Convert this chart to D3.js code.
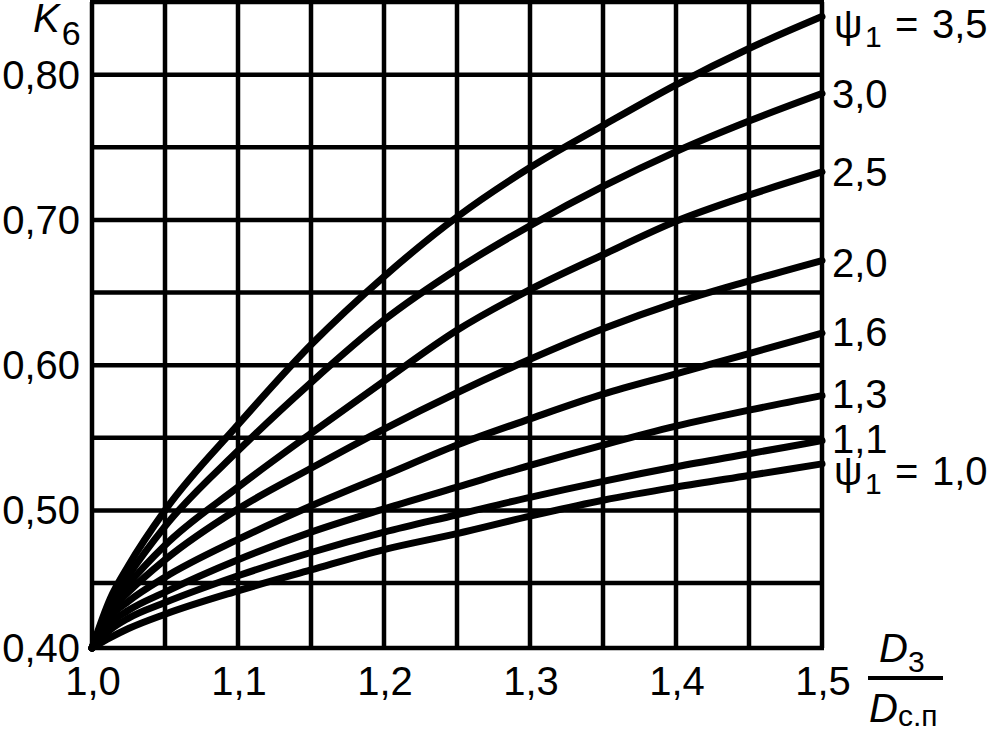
<!DOCTYPE html>
<html><head><meta charset="utf-8">
<script src="https://cdn.jsdelivr.net/npm/d3@7"></script>
<style>
body{margin:0;background:#fff}
svg{display:block}
text{font-family:"Liberation Sans",Arial,Helvetica,sans-serif;fill:#000}
</style>
</head><body>
<svg id="chart" width="995" height="731"></svg>
<script>
// ---- data ----
const xValues = [1.0, 1.0125, 1.025, 1.05, 1.1, 1.15, 1.2, 1.25, 1.3, 1.35, 1.4, 1.45, 1.5];
const psiValues = ["3,5", "3,0", "2,5", "2,0", "1,6", "1,3", "1,1", "1,0"];
const k_psi35 = [0.40, 0.438, 0.462, 0.500, 0.559, 0.614, 0.661, 0.702, 0.736, 0.765, 0.793, 0.818, 0.840];
const k_psi30 = [0.40, 0.433, 0.455, 0.489, 0.541, 0.588, 0.631, 0.666, 0.696, 0.723, 0.747, 0.768, 0.787];
const k_psi25 = [0.40, 0.431, 0.449, 0.476, 0.516, 0.553, 0.589, 0.624, 0.652, 0.676, 0.699, 0.717, 0.733];
const k_psi20 = [0.40, 0.428, 0.443, 0.466, 0.501, 0.529, 0.556, 0.581, 0.604, 0.625, 0.643, 0.658, 0.672];
const k_psi16 = [0.40, 0.424, 0.436, 0.454, 0.480, 0.503, 0.524, 0.545, 0.563, 0.580, 0.594, 0.608, 0.622];
const k_psi13 = [0.40, 0.419, 0.429, 0.443, 0.466, 0.485, 0.501, 0.516, 0.531, 0.545, 0.558, 0.569, 0.579];
const k_psi11 = [0.40, 0.414, 0.423, 0.435, 0.455, 0.471, 0.485, 0.497, 0.509, 0.520, 0.530, 0.539, 0.548];
const k_psi10 = [0.40, 0.408, 0.415, 0.426, 0.444, 0.459, 0.473, 0.484, 0.496, 0.507, 0.516, 0.524, 0.532];
const seriesValues = [k_psi35, k_psi30, k_psi25, k_psi20, k_psi16, k_psi13, k_psi11, k_psi10];

const xTickValues = [1.0, 1.1, 1.2, 1.3, 1.4, 1.5];
const xTickLabels = ["1,0", "1,1", "1,2", "1,3", "1,4", "1,5"];
const yTickValues = [0.40, 0.50, 0.60, 0.70, 0.80];
const yTickLabels = ["0,40", "0,50", "0,60", "0,70", "0,80"];
const xGridValues = [1.0, 1.05, 1.1, 1.15, 1.2, 1.25, 1.3, 1.35, 1.4, 1.45, 1.5];
const yGridValues = [0.40, 0.45, 0.50, 0.55, 0.60, 0.65, 0.70, 0.75, 0.80, 0.85];

// ---- layout ----
const svg = d3.select("#chart");
const x = d3.scaleLinear().domain([1.0, 1.5]).range([92, 822]);
const y = d3.scaleLinear().domain([0.40, 0.45, 0.85]).range([648, 583, 2]);
const FS = 40;

// grid
const g = svg.append("g");
g.selectAll(".vg").data(xGridValues).join("line")
  .attr("x1", d => x(d)).attr("x2", d => x(d))
  .attr("y1", y(0.85)).attr("y2", y(0.40))
  .attr("stroke", "#000").attr("stroke-width", 4.5);
g.selectAll(".hg").data(yGridValues).join("line")
  .attr("x1", x(1.0) - 2).attr("x2", x(1.5) + 2)
  .attr("y1", d => y(d)).attr("y2", d => y(d))
  .attr("stroke", "#000").attr("stroke-width", 4.5);

// curves
const line = d3.line().x(d => x(d[0])).y(d => y(d[1])).curve(d3.curveMonotoneX);
svg.append("g").selectAll("path").data(seriesValues).join("path")
  .attr("d", s => line(s.map((v, i) => [xValues[i], v])))
  .attr("fill", "none").attr("stroke", "#000").attr("stroke-width", 7)
  .attr("stroke-linecap", "round").attr("stroke-linejoin", "round");

// y tick labels
svg.append("g").selectAll("text").data(yTickValues).join("text")
  .attr("x", 80).attr("y", d => y(d) + 14)
  .attr("text-anchor", "end").attr("font-size", FS)
  .text((d, i) => yTickLabels[i]);

// x tick labels
svg.append("g").selectAll("text").data(xTickValues).join("text")
  .attr("x", d => x(d) + 1).attr("y", 695)
  .attr("text-anchor", "middle").attr("font-size", FS)
  .text((d, i) => xTickLabels[i]);

// axis titles
const ky = svg.append("text").attr("x", 33).attr("y", 32).attr("font-size", FS);
ky.append("tspan").attr("font-style", "italic").text("K");
ky.append("tspan").attr("font-size", 34).attr("dy", 13).attr("dx", 2).text("6");

const num = svg.append("text").attr("x", 879).attr("y", 662).attr("font-size", FS);
num.append("tspan").attr("font-style", "italic").text("D");
num.append("tspan").attr("font-size", 30).attr("dy", 10).text("3");
svg.append("line").attr("x1", 868).attr("x2", 943).attr("y1", 678).attr("y2", 678)
  .attr("stroke", "#000").attr("stroke-width", 4);
const den = svg.append("text").attr("x", 869).attr("y", 722).attr("font-size", FS);
den.append("tspan").attr("font-style", "italic").text("D");
den.append("tspan").attr("font-size", 30).attr("dy", 4).text("с.п");

// curve labels
const labelOffsets = [21, 14, 14, 16, 13, 12, 12, 21];
const lab = svg.append("g");
psiValues.forEach((p, i) => {
  const endV = seriesValues[i][seriesValues[i].length - 1];
  const by = y(endV) + labelOffsets[i];
  const t = lab.append("text").attr("font-size", FS).attr("y", by);
  if (i === 0 || i === psiValues.length - 1) {
    t.append("tspan").attr("x", 834).text("ψ");
    t.append("tspan").attr("x", 865).attr("dy", 9).attr("font-size", 30).text("1");
    t.append("tspan").attr("x", 895).attr("dy", -9).text("=");
    t.append("tspan").attr("x", 932).text(p);
  } else {
    t.attr("x", 832).text(p);
  }
});
</script>
</body></html>
